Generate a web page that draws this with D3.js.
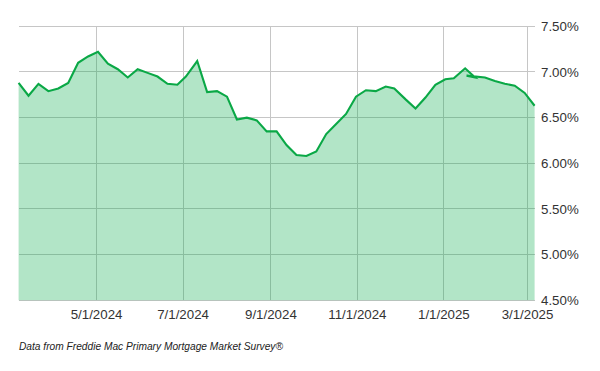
<!DOCTYPE html>
<html><head><meta charset="utf-8">
<script src="https://cdn.jsdelivr.net/npm/d3@7"></script>
<style>body{margin:0;background:#fff}svg{display:block}</style>
</head><body>
<svg id="c" width="600" height="371"></svg>
<script>
const dates = ["2024-03-07","2024-03-14","2024-03-21","2024-03-28","2024-04-04","2024-04-11","2024-04-18","2024-04-25",
"2024-05-02","2024-05-09","2024-05-16","2024-05-23","2024-05-30","2024-06-06","2024-06-13","2024-06-20","2024-06-27",
"2024-07-03","2024-07-11","2024-07-18","2024-07-25","2024-08-01","2024-08-08","2024-08-15","2024-08-22","2024-08-29",
"2024-09-05","2024-09-12","2024-09-19","2024-09-26","2024-10-03","2024-10-10","2024-10-17","2024-10-24","2024-10-31",
"2024-11-07","2024-11-14","2024-11-21","2024-11-27","2024-12-05","2024-12-12","2024-12-19","2024-12-26",
"2025-01-02","2025-01-08","2025-01-16","2025-01-23","2025-01-17","2025-01-30","2025-02-06","2025-02-13","2025-02-20","2025-02-27","2025-03-06"];
const rates = [6.88,6.74,6.87,6.79,6.82,6.88,7.10,7.17,
7.22,7.09,7.03,6.94,7.03,6.99,6.95,6.87,6.86,
6.95,7.12,6.78,6.79,6.73,6.48,6.50,6.47,6.35,
6.35,6.20,6.09,6.08,6.13,6.32,6.43,6.54,6.73,
6.80,6.79,6.84,6.82,6.70,6.60,6.72,6.86,
6.92,6.93,7.04,6.94,6.96,6.94,6.90,6.87,6.85,6.77,6.63];
const xTickDates = ["2024-05-01","2024-07-01","2024-09-01","2024-11-01","2025-01-01","2025-03-01"];
const xTickLabels = ["5/1/2024","7/1/2024","9/1/2024","11/1/2024","1/1/2025","3/1/2025"];
const yTicks = [4.5,5.0,5.5,6.0,6.5,7.0,7.5];
const footnote = "Data from Freddie Mac Primary Mortgage Market Survey®";

const parse = d3.timeParse("%Y-%m-%d");
const data = dates.map((d,i)=>({date:parse(d), v:rates[i]}));
const svg = d3.select("#c");
const L=18.6, R=534.6, T=26.3, B=300.3;
const x = d3.scaleTime().domain([parse("2024-03-07"), parse("2025-03-06")]).range([L,R]);
const y = d3.scaleLinear().domain([4.5,7.5]).range([B,T]);
const font = "'Liberation Sans', Arial, sans-serif";

// gridlines
const g = svg.append("g");
g.selectAll("line.h").data(yTicks).join("line")
  .attr("x1",L).attr("x2",R).attr("y1",d=>y(d)).attr("y2",d=>y(d))
  .attr("stroke","#c6c6c6").attr("stroke-width",1).attr("shape-rendering","crispEdges");
g.selectAll("line.v").data(xTickDates).join("line")
  .attr("x1",d=>x(parse(d))).attr("x2",d=>x(parse(d))).attr("y1",T).attr("y2",B)
  .attr("stroke","#c6c6c6").attr("stroke-width",1).attr("shape-rendering","crispEdges");

// area
const area = d3.area().x(d=>x(d.date)).y0(B).y1(d=>y(d.v));
svg.append("path").datum(data).attr("d",area).attr("fill","#00aa46").attr("fill-opacity",0.3);
const line = d3.line().x(d=>x(d.date)).y(d=>y(d.v));
svg.append("path").datum(data).attr("d",line).attr("fill","none")
  .attr("stroke","#0aa846").attr("stroke-width",2.1).attr("stroke-linejoin","miter");

// y axis labels
svg.selectAll("text.y").data(yTicks).join("text")
  .attr("x",541).attr("y",d=>y(d)).attr("dy","0.35em")
  .attr("font-family",font).attr("font-size",13.3).attr("fill","#333")
  .text(d=>d3.format(".2f")(d)+"%");
// x axis labels
svg.selectAll("text.x").data(xTickDates).join("text")
  .attr("x",d=>x(parse(d))).attr("y",319).attr("text-anchor","middle")
  .attr("font-family",font).attr("font-size",13.3).attr("fill","#333")
  .text((d,i)=>xTickLabels[i]);
svg.append("text").attr("x",19).attr("y",350)
  .attr("font-family",font).attr("font-size",10.2).attr("font-style","italic").attr("fill","#222")
  .text(footnote);
</script>
</body></html>
